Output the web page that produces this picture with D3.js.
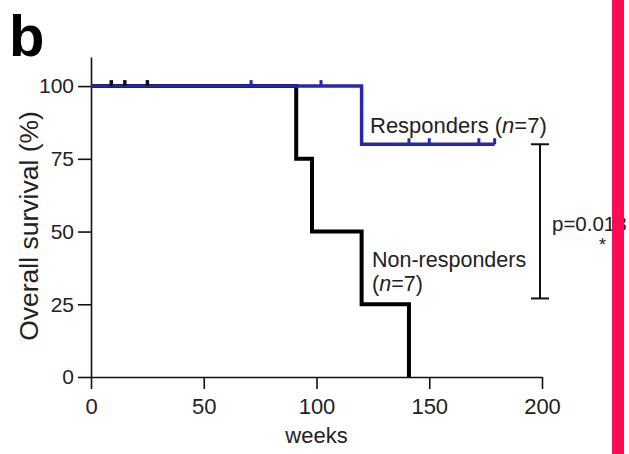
<!DOCTYPE html>
<html lang="en">
<head>
<meta charset="UTF-8">
<title>Overall survival</title>
<script src="https://d3js.org/d3.v7.min.js"></script>
<style>
    body { margin: 0; background: #fff; }
    svg { display: block; font-family: "Liberation Sans", Arial, sans-serif; }
    .axis text { fill: #222; }
    .axis path, .axis line { stroke: #111; stroke-width: 1.6px; }
</style>
</head>
<body>
<svg id="chart" width="629" height="454"></svg>
<script>
    // tick labels
    var weekTicks = [0, 50, 100, 150, 200];
    var survTicks = [0, 25, 50, 75, 100];

    // Kaplan-Meier steps (weeks, % surviving)
    var respWeeks = [0, 120, 179];
    var respSurv = [100, 80, 80];
    var nonWeeks = [0, 91, 98, 120, 141];
    var nonSurv = [100, 75, 50, 25, 0];

    // censored patients
    var respCensWeeks = [71, 102, 141, 150, 172, 179];
    var respCensSurv = [100, 100, 80, 80, 80, 80];
    var nonCensWeeks = [9, 15, 25];
    var nonCensSurv = [100, 100, 100];

    // p value bracket
    var bracketSurv = [80, 27];
    var pLabel = "p=0.018";

    var svg = d3.select("#chart");

    var x = d3.scaleLinear().domain([0, 200]).range([91, 542]);
    var y = d3.scaleLinear().domain([0, 110]).range([377, 57]);

    // axes
    svg.append("g")
        .attr("class", "axis")
        .attr("transform", "translate(0," + y(0) + ")")
        .call(d3.axisBottom(x).tickValues(weekTicks).tickSize(12).tickSizeOuter(0).tickPadding(5))
        .call(g => g.selectAll("text").style("font-size", "22px").attr("dy", "0.9em"));

    svg.append("g")
        .attr("class", "axis")
        .attr("transform", "translate(" + x(0) + ",0)")
        .call(d3.axisLeft(y).tickValues(survTicks).tickSize(13).tickSizeOuter(0).tickPadding(4))
        .call(g => g.selectAll("text").style("font-size", "21px"));

    svg.append("text")
        .attr("transform", "translate(38,226) rotate(-90)")
        .attr("text-anchor", "middle")
        .style("font-size", "26.5px").style("fill", "#222")
        .text("Overall survival (%)");

    svg.append("text")
        .attr("x", x(100)).attr("y", 443)
        .attr("text-anchor", "middle")
        .style("font-size", "22px").style("fill", "#222")
        .text("weeks");

    // step lines
    var line = d3.line().curve(d3.curveStepAfter);

    svg.append("path")
        .attr("d", line(nonWeeks.map((w, i) => [x(w), y(nonSurv[i])])))
        .attr("fill", "none").attr("stroke", "#000").attr("stroke-width", 4);

    svg.append("path")
        .attr("d", line(respWeeks.map((w, i) => [x(w), y(respSurv[i])])))
        .attr("fill", "none").attr("stroke", "#2727aa").attr("stroke-width", 3.5);

    // censor marks
    svg.selectAll(".censR")
        .data(respCensWeeks)
        .enter().append("line")
        .attr("x1", d => x(d)).attr("x2", d => x(d))
        .attr("y1", (d, i) => y(respCensSurv[i]) - 6)
        .attr("y2", (d, i) => y(respCensSurv[i]))
        .attr("stroke", "#2727aa").attr("stroke-width", 3);

    svg.selectAll(".censN")
        .data(nonCensWeeks)
        .enter().append("line")
        .attr("x1", d => x(d)).attr("x2", d => x(d))
        .attr("y1", (d, i) => y(nonCensSurv[i]) - 6)
        .attr("y2", (d, i) => y(nonCensSurv[i]))
        .attr("stroke", "#111").attr("stroke-width", 3.5);

    // labels
    svg.append("text")
        .attr("x", 370).attr("y", 133)
        .style("font-size", "22px").style("fill", "#222")
        .html('Responders (<tspan font-style="italic">n</tspan>=7)');

    svg.append("text")
        .attr("x", 372).attr("y", 267)
        .style("font-size", "21.5px").style("fill", "#222")
        .text("Non-responders");

    svg.append("text")
        .attr("x", 372).attr("y", 291)
        .style("font-size", "21.5px").style("fill", "#222")
        .html('(<tspan font-style="italic">n</tspan>=7)');

    // bracket
    var bx = 540;
    svg.append("line")
        .attr("x1", bx).attr("x2", bx)
        .attr("y1", y(bracketSurv[0])).attr("y2", y(bracketSurv[1]))
        .attr("stroke", "#111").attr("stroke-width", 2);
    bracketSurv.forEach(s => {
        svg.append("line")
            .attr("x1", bx - 9).attr("x2", bx + 9)
            .attr("y1", y(s)).attr("y2", y(s))
            .attr("stroke", "#111").attr("stroke-width", 2);
    });

    svg.append("text")
        .attr("x", 552).attr("y", 231)
        .style("font-size", "20.5px").style("fill", "#222")
        .text(pLabel);
    svg.append("text")
        .attr("x", 599).attr("y", 251)
        .style("font-size", "18px").style("fill", "#222")
        .text("*");

    // panel letter
    svg.append("text")
        .attr("x", 9).attr("y", 56)
        .style("font-size", "58px").style("font-weight", "bold").style("fill", "#000")
        .text("b");

    // pink edge bar
    svg.append("rect")
        .attr("x", 612).attr("y", 0)
        .attr("width", 12).attr("height", 454)
        .attr("fill", "#ff0a55");
</script>
</body>
</html>
